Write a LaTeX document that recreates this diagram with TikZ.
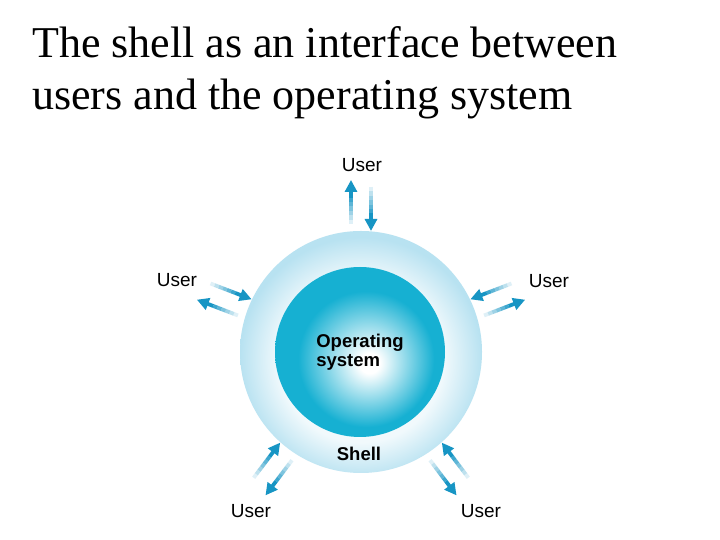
\documentclass[tikz,border=0pt]{standalone}
\usepackage{fontspec}
\setmainfont{Liberation Serif}
\setsansfont{Liberation Sans}
\usetikzlibrary{calc,arrows.meta}
\definecolor{arrowblue}{RGB}{23,149,196}
\definecolor{oscyan}{RGB}{22,176,210}
\definecolor{shellblue}{RGB}{184,226,241}
\pgfdeclareradialshading{osglow}{\pgfpoint{3bp}{-3.5bp}}{color(0bp)=(white); color(3bp)=(white); color(20bp)=(oscyan); color(25bp)=(oscyan); color(50bp)=(oscyan)}
\pgfdeclareradialshading{shellglow}{\pgfpoint{0bp}{-2.5bp}}{color(0bp)=(white); color(17bp)=(white!80!shellblue); color(25bp)=(shellblue); color(50bp)=(shellblue)}
\tikzset{
  userlabel/.style={font=\sffamily\fontsize{19}{21}\selectfont, inner sep=0pt},
  userline/.style={line width=3.8pt, arrowblue},
}
% arrow whose tail fades into the white page
\newcommand{\fadearrow}[2]{%
  \foreach \k [evaluate=\k as \p using (\k-1)/10, evaluate=\k as \q using \k/10,
               evaluate=\k as \c using \k*14] in {1,...,6}
    \draw[userline, arrowblue!\c] ($(#1)!\p!(#2)$) -- ($(#1)!\q!(#2)$);
  \draw[userline, -{Triangle[length=12pt,width=12pt]}] ($(#1)!0.6!(#2)$) -- (#2);
}

\begin{document}
\begin{tikzpicture}[x=1pt,y=1pt]
  \useasboundingbox (0,0) rectangle (720,540);
  \fill[white] (0,0) rectangle (720,540);

  % title
  \node[anchor=base west, inner sep=0pt, font=\fontsize{44}{52}\selectfont] (title1) at (32,482) {The shell as an interface between};
  \node[anchor=base west, inner sep=0pt, font=\fontsize{44}{52}\selectfont] (title2) at (32,430) {users and the operating system};

  % shell and operating system
  \node[circle, minimum size=242pt, inner sep=0pt, shading=shellglow] (shell) at (361,188) {};
  \node[circle, minimum size=170pt, inner sep=0pt, shading=osglow, align=left,
        font=\sffamily\bfseries\fontsize{18.5}{19.5}\selectfont] (os) at (360,188) {Operating\\system};
  \node[font=\sffamily\bfseries\fontsize{18.5}{20}\selectfont, inner sep=0pt] (shelllabel) at (359,86) {Shell};

  % users
  \node[userlabel] (userT) at (362,375) {User};
  \node[userlabel] (userL) at (177,260) {User};
  \node[userlabel] (userR) at (549,259) {User};
  \node[userlabel] (userBL) at (251,29) {User};
  \node[userlabel] (userBR) at (481,29) {User};

  % requests in, replies out
  \foreach \a/\s/\n in {90/1/T, 159/1/L, 233/1/BL, 21/-1/R, 307/-1/BR} {
    \coordinate (in\n a) at ($(shell.center)+(\a:165)+(\a-90*\s:10)$);
    \coordinate (in\n b) at ($(shell.center)+(\a:121)+(\a-90*\s:10)$);
    \coordinate (out\n a) at ($(shell.center)+(\a:128)+(\a+90*\s:10)$);
    \coordinate (out\n b) at ($(shell.center)+(\a:172)+(\a+90*\s:10)$);
    \fadearrow{in\n a}{in\n b}
    \fadearrow{out\n a}{out\n b}
  }
\end{tikzpicture}
\end{document}
